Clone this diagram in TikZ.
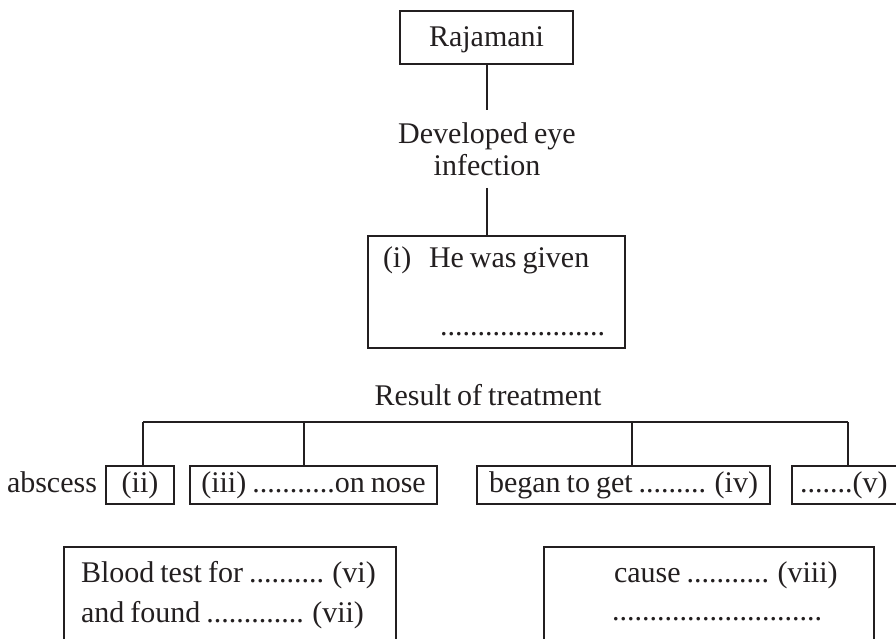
\documentclass[tikz,border=0pt]{standalone}
\usepackage{fontspec}
\setmainfont[WordSpace=0.8]{Liberation Serif}
\definecolor{ink}{HTML}{231F20}
\begin{document}
\begin{tikzpicture}[x=1pt,y=-1pt,
  font=\fontsize{30}{32}\selectfont, color=ink, line width=2pt,
  box/.style={draw=ink, rectangle, inner sep=0pt, line width=2pt, text height=21pt, text depth=7pt},
  txt/.style={inner sep=0pt, anchor=base west},
  ctxt/.style={inner sep=0pt, anchor=base},
  link/.style={draw=ink, line width=2pt}]
\fill[white] (0,0) rectangle (896,639);
\clip (0,0) rectangle (896,639);
% top chain
\node[box, minimum width=173pt, minimum height=53pt, text height=23pt, text depth=5pt] (raj) at (486.5,37.5) {Rajamani};
\node[inner sep=0pt, align=center] (dev) at (487,149) {Developed eye\\infection};
\coordinate (d1) at (486.5,110);
\coordinate (d2) at (486.5,188);
\node[box, minimum width=257pt, minimum height=112pt] (boxi) at (496.5,292) {};
\node[txt] (ti) at (382,267) {(i)};
\node[txt] (tgiven) at (428,267) {He was given};
\node[txt] (tdots) at (439,335) {......................};
\draw[link] (raj.south) -- (d1);
\draw[link] (d2) -- (d2 |- boxi.north);
% result
\node[ctxt] (res) at (488,405) {Result of treatment};
\coordinate (b1) at (143,422);
\coordinate (b2) at (304,422);
\coordinate (b3) at (632,422);
\coordinate (b4) at (848,422);
\node[box, minimum width=68pt, minimum height=38pt] (ii) at (140,485) {(ii)};
\node[box, minimum width=247pt, minimum height=38pt] (iii) at (313.5,485) {(iii) ...........on nose};
\node[box, minimum width=293pt, minimum height=38pt] (iv) at (623.5,485) {began to get ......... (iv)};
\node[box, minimum width=130pt, minimum height=38pt] (v) at (857,485) {};
\node[txt] (tv) at (799,492) {.......(v)};
\node[txt] (abs) at (6,492) {abscess};
\draw[link] (b1) -- (b4);
\draw[link] (b1) -- (b1 |- ii.north);
\draw[link] (b2) -- (b2 |- iii.north);
\draw[link] (b3) -- (b3 |- iv.north);
\draw[link] (b4) -- (b4 |- v.north);
% bottom boxes
\node[box, minimum width=332pt, minimum height=153pt] (bl) at (230,623.5) {};
\node[txt] (tvi) at (80,582) {Blood test for .......... (vi)};
\node[txt] (tvii) at (80,622) {and found ............. (vii)};
\node[box, minimum width=330pt, minimum height=153pt] (br) at (709,623.5) {};
\node[txt] (tviii) at (613,582) {cause ........... (viii)};
\node[txt] (tdots2) at (611,620) {............................};
\end{tikzpicture}
\end{document}
